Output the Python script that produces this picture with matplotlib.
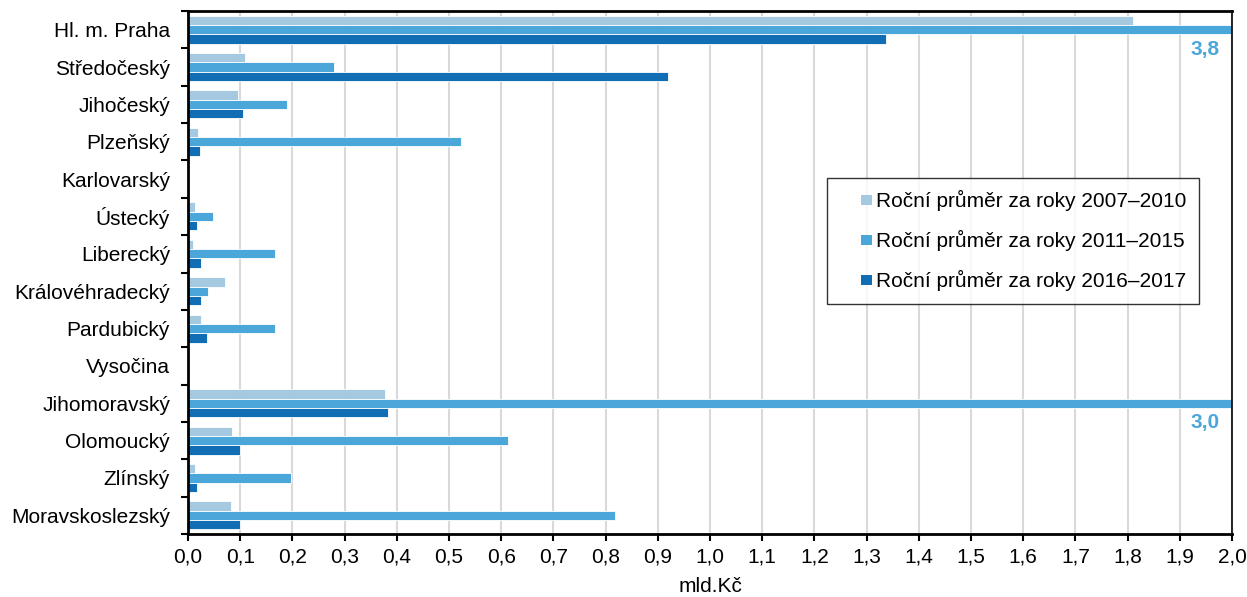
import matplotlib
matplotlib.use("Agg")
import matplotlib.pyplot as plt
from matplotlib.patches import Rectangle
from matplotlib.legend_handler import HandlerPatch
from matplotlib.container import BarContainer
import numpy as np

# Regions (top to bottom) and yearly averages in bn CZK
regions = ["Hl. m. Praha", "Středočeský", "Jihočeský", "Plzeňský", "Karlovarský", "Ústecký",
           "Liberecký", "Královéhradecký", "Pardubický", "Vysočina", "Jihomoravský",
           "Olomoucký", "Zlínský", "Moravskoslezský"]
avg_2007_2010 = [1.81, 0.11, 0.096, 0.02, 0.0, 0.013, 0.01, 0.071, 0.024, 0.0, 0.378, 0.085, 0.013, 0.083]
avg_2011_2015 = [3.8, 0.28, 0.19, 0.522, 0.0, 0.048, 0.166, 0.038, 0.167, 0.0, 3.0, 0.613, 0.197, 0.818]
avg_2016_2017 = [1.338, 0.92, 0.105, 0.023, 0.0, 0.017, 0.025, 0.025, 0.036, 0.0, 0.384, 0.10, 0.017, 0.10]
series_labels = ["Roční průměr za roky 2007–2010", "Roční průměr za roky 2011–2015",
                 "Roční průměr za roky 2016–2017"]
x_ticks = [round(0.1 * i, 1) for i in range(21)]

plt.rcParams['font.family'] = ['Liberation Sans', 'DejaVu Sans']
colors = ["#a6c9e2", "#4ba6da", "#126eb4"]
fs = 15

fig = plt.figure(figsize=(12.47, 5.97), dpi=100)
ax = fig.add_axes([0.1508, 0.1055, 0.8372, 0.8761])

y = np.arange(len(regions))
h = 0.25
for k, (vals, lab) in enumerate(zip([avg_2007_2010, avg_2011_2015, avg_2016_2017], series_labels)):
    ax.barh(y + (k - 1) * h, vals, height=h, color=colors[k], edgecolor="white",
            linewidth=0.6, label=lab, zorder=3)

ax.set_xlim(0, 2.0)
ax.set_ylim(len(regions) - 0.5, -0.5)

# values that run off the axis
for i, v in enumerate(avg_2011_2015):
    if v > 2.0:
        ax.text(1.977, y[i] + 0.52, f"{v:.1f}".replace(".", ","), color="#4ba6da",
                fontsize=fs, fontweight="bold", ha="right", va="center")

ax.set_xticks(x_ticks)
ax.set_xticklabels([f"{t:.1f}".replace(".", ",") for t in x_ticks], fontsize=fs)
ax.set_yticks(y)
ax.set_yticklabels(regions, fontsize=fs)
ax.set_yticks(np.arange(len(regions) + 1) - 0.5, minor=True)
ax.tick_params(axis="y", which="major", length=0, pad=13)
ax.tick_params(axis="y", which="minor", length=5, width=1.5, direction="out")
ax.tick_params(axis="x", length=5, width=1.5, direction="out", pad=5)

ax.grid(axis="x", color="#d9d9d9", linewidth=1.5, zorder=0)
ax.set_axisbelow(True)

for s in ["top", "left", "bottom"]:
    ax.spines[s].set_linewidth(2)
ax.spines["right"].set_linewidth(1.2)
for s in ax.spines.values():
    s.set_color("black")
    s.set_zorder(5)

ax.set_xlabel("mld.Kč", fontsize=fs, labelpad=7)


# small square handle sitting at the right end of the handle box
def square(legend, orig_handle, xdescent, ydescent, width, height, fontsize):
    s = 7.5
    return Rectangle((width - s - xdescent, (height - s) / 2 - ydescent), s, s)


def copy_color(legend_handle, orig_handle):
    legend_handle.set_facecolor(orig_handle[0].get_facecolor())
    legend_handle.set_edgecolor("none")


leg = ax.legend(loc="upper left", bbox_to_anchor=(0.612, 0.681), fontsize=fs, frameon=True,
                fancybox=False, edgecolor="black", handlelength=1.55, handleheight=0.7,
                handletextpad=0.2, labelspacing=0.9, borderpad=0.6, borderaxespad=0,
                handler_map={BarContainer: HandlerPatch(patch_func=square, update_func=copy_color)})
leg.get_frame().set_linewidth(1.0)

fig.savefig("out.png", dpi=100)
